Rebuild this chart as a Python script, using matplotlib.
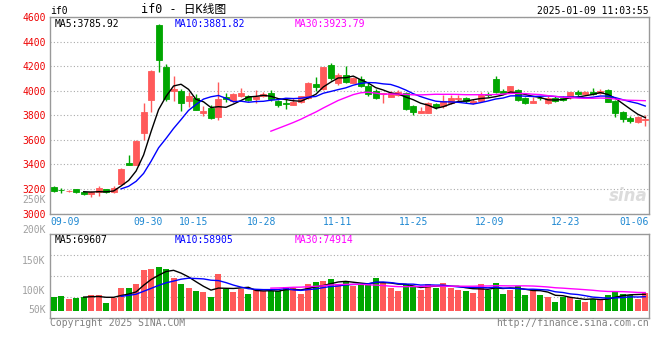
import matplotlib

matplotlib.use("Agg")
import matplotlib.pyplot as plt
import matplotlib.transforms as mtransforms
import numpy as np
import pandas as pd

# ── data (daily K-line) ────────────────────────────────────────────────────────
OPEN = [3217, 3192, 3182, 3196, 3176, 3155, 3176, 3198, 3176, 3237,
        3411, 3395, 3653, 3925, 4537, 4189, 3996, 4001, 3916, 3939,
        3816, 3857, 3788, 3949, 3916, 3958, 3958, 3936, 3960, 3985,
        3919, 3903, 3886, 3908, 3939, 4058, 4012, 4211, 4066, 4129,
        4061, 4094, 4039, 3998, 3973, 3952, 3966, 3985, 3876, 3818,
        3821, 3892, 3872, 3903, 3936, 3939, 3903, 3919, 3973, 4094,
        4001, 3985, 4006, 3939, 3903, 3943, 3903, 3939, 3937, 3947,
        3988, 3974, 3990, 3979, 4006, 3916, 3829, 3780, 3748, 3765]
HIGH = [3225, 3209, 3190, 3200, 3185, 3182, 3220, 3200, 3220, 3369,
        3476, 3595, 3898, 4170, 4540, 4221, 4123, 4010, 3993, 3973,
        3876, 3884, 4072, 3981, 3983, 4020, 3966, 4006, 3990, 4006,
        3925, 3939, 3939, 3960, 4074, 4115, 4189, 4229, 4142, 4197,
        4115, 4120, 4060, 4010, 3985, 4000, 4006, 3993, 3885, 3871,
        3911, 3897, 3966, 3966, 3966, 3947, 3930, 3993, 3993, 4123,
        4014, 4039, 4012, 3947, 3947, 3958, 3958, 3958, 3955, 3993,
        4006, 3998, 4020, 4010, 4014, 3925, 3838, 3790, 3795, 3802]
LOW = [3176, 3168, 3176, 3168, 3150, 3138, 3146, 3170, 3170, 3230,
       3392, 3392, 3598, 3824, 4156, 3914, 3916, 3838, 3865, 3843,
       3797, 3770, 3762, 3906, 3906, 3947, 3916, 3903, 3949, 3920,
       3868, 3851, 3880, 3900, 3930, 3998, 4005, 4090, 4045, 4060,
       4061, 4030, 3960, 3930, 3898, 3952, 3955, 3844, 3800, 3818,
       3816, 3848, 3860, 3895, 3906, 3903, 3890, 3911, 3950, 3985,
       3973, 3980, 3920, 3895, 3898, 3925, 3895, 3905, 3918, 3935,
       3960, 3966, 3966, 3970, 3905, 3784, 3743, 3735, 3740, 3713]
CLOSE = [3184, 3188, 3185, 3171, 3158, 3171, 3204, 3176, 3209, 3361,
         3395, 3590, 3827, 4164, 4251, 3935, 4014, 3898, 3958, 3843,
         3835, 3780, 3933, 3933, 3973, 3981, 3925, 3957, 3976, 3933,
         3884, 3890, 3906, 3958, 4066, 4033, 4189, 4102, 4129, 4074,
         4101, 4039, 3971, 3939, 3978, 3985, 3993, 3849, 3829, 3835,
         3903, 3865, 3915, 3939, 3941, 3916, 3919, 3966, 3963, 3993,
         3985, 4039, 3925, 3903, 3919, 3938, 3941, 3919, 3925, 3988,
         3971, 3990, 3974, 4001, 3911, 3816, 3770, 3756, 3789, 3772]
VOLUME = [88.8, 90.5, 85.5, 87.2, 88.8, 92.2, 92.2, 78.8, 87.2, 103.8,
          103.8, 110.5, 133.8, 135.5, 138.8, 135.5, 120.5, 110.5, 103.8, 98.8,
          97.2, 88.8, 127.2, 102.2, 97.2, 102.2, 93.8, 100.5, 98.8, 98.8,
          98.8, 105.5, 103.8, 93.8, 110.5, 113.8, 115.5, 118.8, 108.3, 115.5,
          106.7, 108.3, 112.2, 120.5, 113.8, 103.8, 98.8, 110.5, 107.2, 100.5,
          110.5, 103.8, 112.2, 103.8, 100.5, 98.8, 95.5, 110.5, 100.5, 112.2,
          93.8, 100.5, 107.2, 92.2, 102.2, 92.2, 88.8, 80.5, 88.8, 88.8,
          83.3, 80.5, 84.5, 83.3, 92.2, 98.8, 93.8, 92.2, 85.5, 94.5]
VOLUME = [v * 1000 for v in VOLUME]

DATE_LABELS = ["09-09", "09-30", "10-15", "10-28", "11-11", "11-25", "12-09", "12-23", "01-06"]
DATE_POS = [0, 13.1, 19.2, 28.3, 38.4, 48.6, 58.7, 68.9, 78.0]
PRICE_TICKS = [3000, 3200, 3400, 3600, 3800, 4000, 4200, 4400, 4600]
VOL_TICKS = [100000, 150000]
MA_WINDOWS = [5, 10, 30]
PRICE_MA_TEXT = ["MA5:3785.92", "MA10:3881.82", "MA30:3923.79"]
VOL_MA_TEXT = ["MA5:69607", "MA10:58905", "MA30:74914"]

# ── style ─────────────────────────────────────────────────────────────────────
W, H = 660, 360
RED = "#ff5a5a"
GREEN = "#00a600"
FRAME = "#999999"
GRID = "#aaaaaa"
PRICE_LBL = "#ee0000"
DATE_LBL = "#1e88d2"
VOL_LBL = "#a0a0a0"
MA_COLORS = ["#000000", "#0000ff", "#ff00ff"]
MONO = ["DejaVu Sans Mono", "Noto Sans CJK SC"]
FS = 7
VOL_BASE = 65000
VOL_YLIM = (53333, 193333)

plt.rcParams["font.family"] = MONO

fig = plt.figure(figsize=(W / 100, H / 100), dpi=100)
fig.patch.set_facecolor("white")
ax = fig.add_axes([50 / W, 1 - 213.5 / H, 599 / W, 196.5 / H])
axv = fig.add_axes([50 / W, 1 - 318 / H, 599 / W, 84 / H])

o, h, l, c = (np.array(a, dtype=float) for a in (OPEN, HIGH, LOW, CLOSE))
vol = np.array(VOLUME, dtype=float)
n = len(c)
x = np.arange(n) + 0.5
colors = np.where(c >= o, RED, GREEN)

# ── price panel ───────────────────────────────────────────────────────────────
ax.vlines(x, l, h, colors=colors, linewidth=1.0, zorder=3)
ax.bar(x, np.abs(c - o), bottom=np.minimum(o, c), width=0.8, color=colors,
       edgecolor=colors, linewidth=0.6, zorder=4)
close_s = pd.Series(c)
for w, col in zip(MA_WINDOWS, MA_COLORS):
    ax.plot(x, close_s.rolling(w).mean(), color=col, linewidth=1.0, zorder=5)

ax.set_xlim(0, n)
ax.set_ylim(PRICE_TICKS[0], PRICE_TICKS[-1])
ax.set_yticks(PRICE_TICKS)
ax.set_yticklabels([str(t) for t in PRICE_TICKS])
ax.set_xticks(DATE_POS)
ax.set_xticklabels(DATE_LABELS)
# first date label sits at the frame corner; keep it clear of the y labels
ax.get_xticklabels()[0].set_horizontalalignment("left")

# ── volume panel ──────────────────────────────────────────────────────────────
axv.bar(x, vol - VOL_BASE, bottom=VOL_BASE, width=0.8, color=colors, linewidth=0, zorder=3)
vol_s = pd.Series(vol)
for w, col in zip(MA_WINDOWS, MA_COLORS):
    axv.plot(x, vol_s.rolling(w).mean(), color=col, linewidth=1.0, zorder=5)
axv.set_xlim(0, n)
axv.set_ylim(*VOL_YLIM)
axv.set_yticks(VOL_TICKS)
axv.set_yticklabels([f"{t // 1000}K" for t in VOL_TICKS])
axv.set_xticks(DATE_POS)
axv.set_xticklabels([])

# extra volume labels that Sina draws outside the panel range
vtrans = mtransforms.blended_transform_factory(axv.transAxes, axv.transData)
for val in (200000, 250000):
    axv.text(-4 / 599, val, f"{val // 1000}K", transform=vtrans, ha="right",
             va="center", fontsize=FS, color=VOL_LBL, clip_on=False)
axv.text(-4 / 599, 8 / 84, "50K", transform=axv.transAxes, ha="right",
         va="center", fontsize=FS, color=VOL_LBL)

# ── shared frame / grid styling ───────────────────────────────────────────────
for a in (ax, axv):
    a.set_facecolor("white")
    for sp in a.spines.values():
        sp.set_color(FRAME)
        sp.set_linewidth(1.0)
    a.set_xticks(DATE_POS[1:-1], minor=True)
    a.grid(False)
    a.grid(True, which="minor", axis="x", color=GRID, linestyle=(0, (1, 2)), linewidth=0.8)
    a.tick_params(which="both", length=0)
    a.tick_params(axis="y", pad=3, labelsize=FS)

ax.grid(True, which="major", axis="y", color=GRID, linestyle=(0, (1, 2)), linewidth=0.8)
for k in range(1, 4):
    axv.axhline(VOL_YLIM[0] + k * (VOL_YLIM[1] - VOL_YLIM[0]) / 4, color=GRID,
                linestyle=(0, (1, 2)), linewidth=0.8, zorder=0)
ax.tick_params(axis="y", labelcolor=PRICE_LBL)
ax.tick_params(axis="x", labelsize=FS, labelcolor=DATE_LBL, pad=2.5)
axv.tick_params(axis="y", labelcolor=VOL_LBL)

# ── MA legends ────────────────────────────────────────────────────────────────
for txt, col, px in zip(PRICE_MA_TEXT, MA_COLORS, (55, 175, 295)):
    ax.text((px - 50) / 599, 1 - 2 / 196.5, txt, transform=ax.transAxes, ha="left",
            va="top", fontsize=FS, color=col, zorder=6)
for txt, col, px in zip(VOL_MA_TEXT, MA_COLORS, (55, 175, 295)):
    axv.text((px - 50) / 599, 1 - 1 / 84, txt, transform=axv.transAxes, ha="left",
             va="top", fontsize=FS, color=col, zorder=6)

# sina watermark
ax.text(0.997, 0.09, "sina", transform=ax.transAxes, ha="right", va="center",
        fontsize=12, fontstyle="italic", fontweight="bold", color="#dcdcdc",
        family="DejaVu Sans", zorder=1)

# ── header / footer ───────────────────────────────────────────────────────────
fig.text(50 / W, 1 - 11.5 / H, "if0", ha="left", va="center", fontsize=FS)
fig.text(141 / W, 1 - 10 / H, "if0 - 日K线图", ha="left", va="center", fontsize=8.5)
fig.text(649 / W, 1 - 11 / H, "2025-01-09 11:03:55", ha="right", va="center", fontsize=FS)
fig.text(50 / W, 1 - 323.5 / H, "Copyright 2025 SINA.COM", ha="left", va="center",
         fontsize=FS, color="#808080")
fig.text(649 / W, 1 - 323.5 / H, "http://finance.sina.com.cn", ha="right", va="center",
         fontsize=FS, color="#808080")

fig.savefig("out.png", dpi=100, facecolor="white")
plt.close(fig)
